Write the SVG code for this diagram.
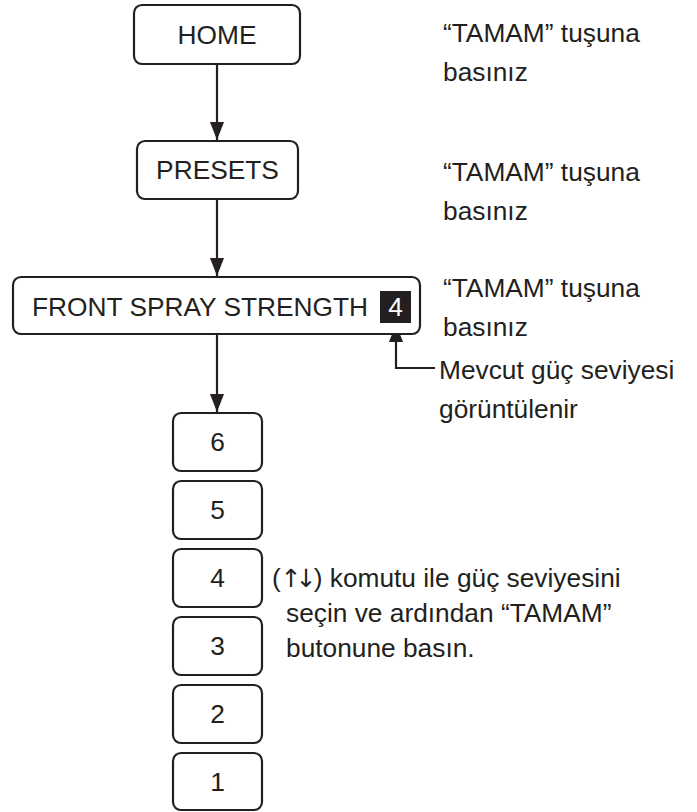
<svg xmlns="http://www.w3.org/2000/svg" width="697" height="812" viewBox="0 0 697 812">
<defs>
<style>
.box{fill:#fff;stroke:#231f20;stroke-width:2.2}
.t{font-family:"Liberation Sans",Arial,sans-serif;font-size:26.3px;fill:#231f20}
.c{text-anchor:middle}
.ln{fill:none;stroke:#231f20;stroke-width:2.2}
.ar{font-family:"DejaVu Sans",sans-serif;font-size:25px;letter-spacing:-6px;fill:#231f20}
</style>
<marker id="ah" markerWidth="18" markerHeight="14" refX="18" refY="7" orient="auto" markerUnits="userSpaceOnUse" viewBox="0 0 18 14">
<path d="M0,0 L18,7 L0,14 Z" fill="#231f20"/>
</marker>
</defs>
<g id="connectors">
<line class="ln" x1="217" y1="64" x2="217" y2="140" marker-end="url(#ah)"/>
<line class="ln" x1="217" y1="199" x2="217" y2="276" marker-end="url(#ah)"/>
<line class="ln" x1="217" y1="334" x2="217" y2="412" marker-end="url(#ah)"/>
<polyline class="ln" points="435,368 396,368 396,324" marker-end="url(#ah)"/>
</g>
<g id="home">
<rect class="box" x="134" y="5" width="166" height="59" rx="8"/>
<text class="t c" x="217" y="44">HOME</text>
</g>
<g id="presets">
<rect class="box" x="137" y="141" width="161" height="58" rx="8"/>
<text class="t c" x="217.5" y="179">PRESETS</text>
</g>
<g id="front">
<rect class="box" x="13" y="277" width="407" height="57" rx="8"/>
<text class="t" x="32" y="316">FRONT SPRAY STRENGTH</text>
<rect x="380" y="291" width="31" height="32" fill="#231f20"/>
<text class="t c" x="395.5" y="316" style="fill:#fff">4</text>
</g>
<g id="n6"><rect class="box" x="173" y="413" width="89" height="58" rx="8"/><text class="t c" x="217.5" y="451">6</text></g>
<g id="n5"><rect class="box" x="173" y="481" width="89" height="58" rx="8"/><text class="t c" x="217.5" y="519">5</text></g>
<g id="n4"><rect class="box" x="173" y="549" width="89" height="58" rx="8"/><text class="t c" x="217.5" y="587">4</text></g>
<g id="n3"><rect class="box" x="173" y="617" width="89" height="58" rx="8"/><text class="t c" x="217.5" y="655">3</text></g>
<g id="n2"><rect class="box" x="173" y="685" width="89" height="58" rx="8"/><text class="t c" x="217.5" y="723">2</text></g>
<g id="n1"><rect class="box" x="173" y="753" width="89" height="57" rx="8"/><text class="t c" x="217.5" y="791">1</text></g>
<g id="notes">
<text class="t" x="443" y="42">“TAMAM” tuşuna</text>
<text class="t" x="443" y="81">basınız</text>
<text class="t" x="443" y="181">“TAMAM” tuşuna</text>
<text class="t" x="443" y="220">basınız</text>
<text class="t" x="443" y="297">“TAMAM” tuşuna</text>
<text class="t" x="443" y="336">basınız</text>
<text class="t" x="439" y="379">Mevcut güç seviyesi</text>
<text class="t" x="439" y="418">görüntülenir</text>
<text class="t" x="272" y="587">(<tspan class="ar">↑↓</tspan><tspan dx="3">) komutu ile güç seviyesini</tspan></text>
<text class="t" x="286" y="622">seçin ve ardından “TAMAM”</text>
<text class="t" x="286" y="657">butonune basın.</text>
</g>
</svg>
